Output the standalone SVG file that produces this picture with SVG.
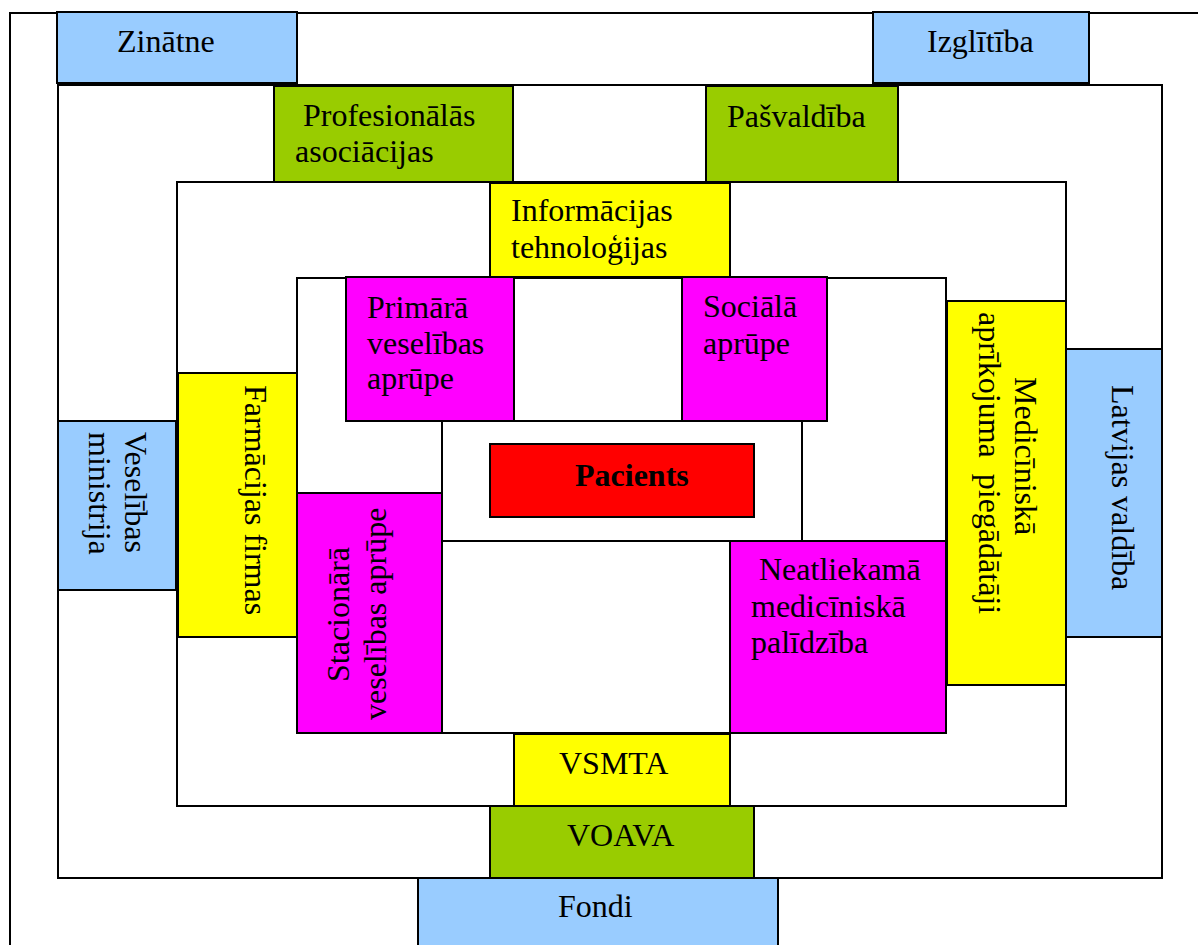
<svg xmlns="http://www.w3.org/2000/svg" width="1198" height="945" viewBox="0 0 1198 945">
  <style>
    .frame { fill: #ffffff; stroke: #000000; stroke-width: 2; }
    .box { stroke: #000000; stroke-width: 2; }
    .blue { fill: #99CCFF; }
    .green { fill: #99CC00; }
    .yellow { fill: #FFFF00; }
    .magenta { fill: #FF00FF; }
    .red { fill: #FF0000; }
    text { font-family: "Liberation Serif", "Times New Roman", serif; font-size: 32px; fill: #000000; }
    .bold { font-weight: bold; }
  </style>

  <rect width="1198" height="945" fill="#ffffff"/>

  <!-- nested rings around the patient -->
  <g id="rings">
    <rect class="frame" x="10" y="13" width="1200" height="1000"/>
    <rect class="frame" x="58" y="85" width="1104" height="793"/>
    <rect class="frame" x="177" y="182" width="889" height="624"/>
    <rect class="frame" x="297" y="278" width="649" height="455"/>
    <rect class="frame" x="442" y="421" width="360" height="120"/>
  </g>

  <!-- outer ring -->
  <g id="zinatne">
    <rect class="box blue" x="57" y="12" width="240" height="71"/>
    <text x="117" y="52">Zinātne</text>
  </g>
  <g id="izglitiba">
    <rect class="box blue" x="873" y="12" width="216" height="71"/>
    <text x="927" y="52">Izglītība</text>
  </g>
  <g id="veselibas-ministrija">
    <rect class="box blue" x="58" y="421" width="118" height="169"/>
    <text transform="translate(125,0) rotate(90)"><tspan x="432" y="0">Veselības</tspan><tspan x="432" y="36">ministrija</tspan></text>
  </g>
  <g id="latvijas-valdiba">
    <rect class="box blue" x="1066" y="349" width="96" height="288"/>
    <text transform="translate(1112,385) rotate(90)">Latvijas valdība</text>
  </g>
  <g id="fondi">
    <rect class="box blue" x="418" y="878" width="360" height="100"/>
    <text x="558" y="917">Fondi</text>
  </g>

  <!-- second ring -->
  <g id="profesionalas-asociacijas">
    <rect class="box green" x="274" y="86" width="239" height="96"/>
    <text><tspan x="303" y="126">Profesionālās</tspan><tspan x="295" y="162">asociācijas</tspan></text>
  </g>
  <g id="pasvaldiba">
    <rect class="box green" x="706" y="86" width="192" height="96"/>
    <text x="727" y="127">Pašvaldība</text>
  </g>
  <g id="voava">
    <rect class="box green" x="490" y="806" width="264" height="72"/>
    <text x="567" y="846">VOAVA</text>
  </g>

  <!-- third ring -->
  <g id="informacijas-tehnologijas">
    <rect class="box yellow" x="490" y="183" width="240" height="94"/>
    <text><tspan x="511" y="221">Informācijas</tspan><tspan x="511" y="258">tehnoloģijas</tspan></text>
  </g>
  <g id="farmacijas-firmas">
    <rect class="box yellow" x="178" y="373" width="119" height="264"/>
    <text transform="translate(245,385) rotate(90)">Farmācijas firmas</text>
  </g>
  <g id="medicinska-aprikojuma-piegadataji">
    <rect class="box yellow" x="947" y="301" width="119" height="384"/>
    <text transform="translate(1015,0) rotate(90)" xml:space="preserve"><tspan x="377" y="0">Medicīniskā</tspan><tspan x="312" y="36">aprīkojuma  piegādātāji</tspan></text>
  </g>
  <g id="vsmta">
    <rect class="box yellow" x="514" y="734" width="216" height="72"/>
    <text x="559" y="774">VSMTA</text>
  </g>

  <!-- fourth ring: care services -->
  <g id="primara-veselibas-aprupe">
    <rect class="box magenta" x="346" y="277" width="168" height="144"/>
    <text><tspan x="367" y="318">Primārā</tspan><tspan x="367" y="354">veselības</tspan><tspan x="367" y="389">aprūpe</tspan></text>
  </g>
  <g id="sociala-aprupe">
    <rect class="box magenta" x="682" y="277" width="145" height="144"/>
    <text><tspan x="703" y="317">Sociālā</tspan><tspan x="703" y="354">aprūpe</tspan></text>
  </g>
  <g id="stacionara-veselibas-aprupe">
    <rect class="box magenta" x="297" y="493" width="145" height="240"/>
    <text transform="translate(349,0) rotate(-90)"><tspan x="-682" y="0">Stacionārā</tspan><tspan x="-720" y="37">veselības aprūpe</tspan></text>
  </g>
  <g id="neatliekama-mediciniska-palidziba">
    <rect class="box magenta" x="730" y="541" width="216" height="192"/>
    <text><tspan x="759" y="580">Neatliekamā</tspan><tspan x="751" y="617">medicīniskā</tspan><tspan x="751" y="653">palīdzība</tspan></text>
  </g>

  <!-- centre -->
  <g id="pacients">
    <rect class="box red" x="490" y="444" width="264" height="73"/>
    <text class="bold" x="575" y="486">Pacients</text>
  </g>
</svg>
